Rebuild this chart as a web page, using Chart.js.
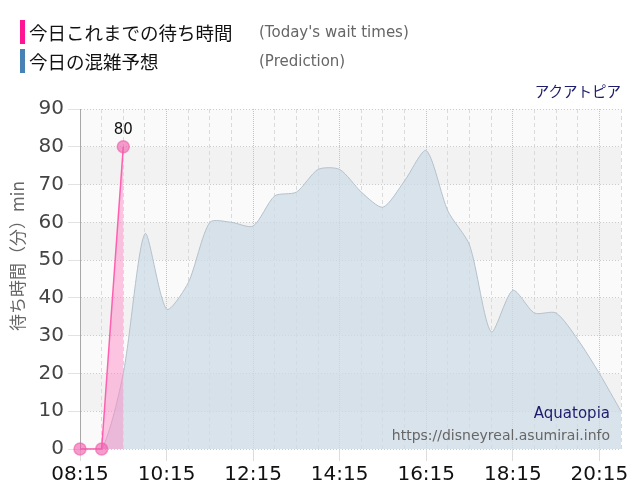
<!DOCTYPE html>
<html>
<head>
<meta charset="utf-8">
<script src="https://cdn.jsdelivr.net/npm/chart.js@4/dist/chart.umd.min.js"></script>
<style>
  body { margin: 0; background: #fff; }
  #wrap { position: relative; width: 640px; height: 500px; }
  #chart { position: absolute; left: 0; top: 0; }
  .row { position: absolute; left: 20px; height: 24px; }
  .bar { position: absolute; left: 0; top: 0; width: 5px; height: 24px; }
  .jp { position: absolute; left: 9px; top: 0; white-space: nowrap; font: 18.5px "Noto Sans CJK JP", sans-serif; line-height: 24px; color: #111; }
  .en { position: absolute; left: 239px; top: 0; white-space: nowrap; font: 15px "DejaVu Sans", sans-serif; line-height: 24px; color: #666; }
  #park { position: absolute; right: 19px; top: 81px; font: 14.5px "Noto Sans CJK JP", sans-serif; line-height: 20px; color: #1c1c6c; }
</style>
</head>
<body>
<div id="wrap">
  <canvas id="chart" width="640" height="500"></canvas>
  <div class="row" style="top:20px">
    <div class="bar" style="background:#ff1493"></div>
    <div class="jp">今日これまでの待ち時間</div>
    <div class="en">(Today's wait times)</div>
  </div>
  <div class="row" style="top:49px">
    <div class="bar" style="background:#4682b4"></div>
    <div class="jp">今日の混雑予想</div>
    <div class="en">(Prediction)</div>
  </div>
  <div id="park">アクアトピア</div>
</div>
<script>
// time slots, every 30 minutes
const labels = ["08:15", "08:45", "09:15", "09:45", "10:15", "10:45", "11:15", "11:45",
  "12:15", "12:45", "13:15", "13:45", "14:15", "14:45", "15:15", "15:45",
  "16:15", "16:45", "17:15", "17:45", "18:15", "18:45", "19:15", "19:45",
  "20:15", "20:45"];

// today's wait times (min)
const waitTimes = [0, 0, 80, null, null, null, null, null, null, null, null, null, null,
  null, null, null, null, null, null, null, null, null, null, null, null, null];

// predicted wait times (min)
const prediction = [0, 0, 20, 57, 37, 44, 60, 60, 59, 67, 68, 74, 74,
  68, 64, 71, 79, 63, 54, 31, 42, 36, 36, 29, 20, 10];

const yTicks = [0, 10, 20, 30, 40, 50, 60, 70, 80, 90];
const darkBands = [[10, 20], [30, 40], [50, 60], [70, 80]];
const yTitle = "待ち時間（分）min";

// background stripes
const bandsPlugin = {
  id: "bands",
  beforeDraw(chart) {
    const { ctx, chartArea: a, scales: { y } } = chart;
    ctx.save();
    ctx.fillStyle = "#fafafa";
    ctx.fillRect(a.left, a.top, a.right - a.left, a.bottom - a.top);
    ctx.fillStyle = "#f2f2f2";
    darkBands.forEach(([lo, hi]) => {
      const top = y.getPixelForValue(hi);
      const bottom = y.getPixelForValue(lo);
      ctx.fillRect(a.left, top, a.right - a.left, bottom - top);
    });
    ctx.restore();
  },
};

// y title, value label and watermark text
const textPlugin = {
  id: "texts",
  afterDraw(chart) {
    const { ctx, chartArea: a, scales: { x, y } } = chart;
    ctx.save();
    ctx.fillStyle = "#666";
    ctx.font = "17px 'Noto Sans CJK JP', sans-serif";
    ctx.textAlign = "center";
    ctx.textBaseline = "middle";
    ctx.translate(18, 256);
    ctx.rotate(-Math.PI / 2);
    ctx.fillText(yTitle, 0, 0);
    ctx.restore();

    // label over last known wait time
    let last = -1;
    waitTimes.forEach((v, i) => { if (v !== null) last = i; });
    ctx.save();
    ctx.fillStyle = "#111";
    ctx.font = "15px 'DejaVu Sans', sans-serif";
    ctx.textAlign = "center";
    ctx.textBaseline = "middle";
    ctx.fillText(String(waitTimes[last]), x.getPixelForValue(last), y.getPixelForValue(waitTimes[last]) - 17);

    ctx.textAlign = "right";
    ctx.fillStyle = "#1c1c6c";
    ctx.font = "15px 'DejaVu Sans', sans-serif";
    ctx.fillText("Aquatopia", a.right - 11, 414);
    ctx.fillStyle = "#666";
    ctx.font = "14px 'DejaVu Sans', sans-serif";
    ctx.fillText("https://disneyreal.asumirai.info", a.right - 11, 436);
    ctx.restore();
  },
};

const ctx = document.getElementById("chart").getContext("2d");
const chart = new Chart(ctx, {
  type: "line",
  data: {
    labels: labels,
    datasets: [
      {
        label: "今日これまでの待ち時間",
        data: waitTimes,
        borderColor: "#ff5fae",
        borderWidth: 1.5,
        backgroundColor: "rgba(255,130,195,0.45)",
        fill: "origin",
        tension: 0,
        clip: false,
        pointRadius: 6,
        pointBackgroundColor: "rgba(240,90,170,0.6)",
        pointBorderColor: "rgba(240,90,170,0.6)",
        spanGaps: false,
      },
      {
        label: "今日の混雑予想",
        data: prediction,
        borderColor: "#b4c2cc",
        borderWidth: 1,
        backgroundColor: "rgba(205,219,230,0.75)",
        fill: "origin",
        tension: 0.25,
        pointRadius: 0,
      },
    ],
  },
  options: {
    responsive: false,
    animation: false,
    layout: { padding: { top: 109, right: 19, left: 0, bottom: 0 } },
    plugins: { legend: { display: false }, tooltip: { enabled: false } },
    scales: {
      x: {
        offset: false,
        afterFit: (scale) => { scale.height = 51; },
        grid: {
          color: (c) => (c.index % 4 === 0 ? "#c4c4c4" : "#dadada"),
          tickColor: (c) => (c.index % 4 === 0 ? "#dddddd" : "rgba(0,0,0,0)"),
          tickLength: 12,
        },
        border: {
          display: false,
          dash: (c) => (c.index % 4 === 0 ? [1, 1] : [4, 3]),
        },
        ticks: {
          autoSkip: false,
          maxRotation: 0,
          minRotation: 0,
          padding: 2,
          color: "#111",
          font: { family: "'DejaVu Sans', sans-serif", size: 20 },
          callback: (v, i) => (i % 4 === 0 ? labels[i] : ""),
        },
      },
      y: {
        min: yTicks[0],
        max: yTicks[yTicks.length - 1],
        afterFit: (scale) => { scale.width = 80; },
        afterBuildTicks: (scale) => { scale.ticks = yTicks.map((v) => ({ value: v })); },
        grid: { color: "#cccccc", tickColor: "#e2e2e2", tickLength: 12 },
        border: { display: true, color: "#a8a8a8", width: 1, dash: [1, 2] },
        ticks: {
          padding: 4,
          color: "#444",
          font: { family: "'DejaVu Sans', sans-serif", size: 20 },
        },
      },
    },
  },
  plugins: [bandsPlugin, textPlugin],
});
</script>
</body>
</html>
